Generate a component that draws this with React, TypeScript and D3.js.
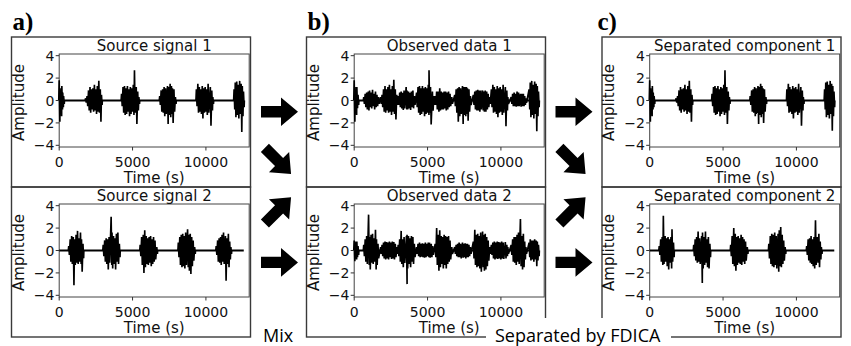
import React from 'react';
import * as d3 from 'd3';

// [time (s), min amplitude, max amplitude] envelope columns
type Col = [number, number, number];

const source1: Col[] = [
  [0, -1.9, 1.8], [60, -1.0, 1.1], [120, -1.4, 0.9], [180, -0.8, 1.3], [240, -0.6, 0.7], [300, -0.3, 0.4],
  [1800, -0.2, 0.2], [1900, -0.5, 0.4], [2000, -0.9, 0.9], [2100, -1.1, 1.2], [2200, -0.8, 1.0], [2300, -1.0, 1.1],
  [2400, -0.9, 1.4], [2500, -1.2, 1.0], [2600, -1.0, 1.3], [2700, -1.1, 1.75], [2800, -1.9, 1.0], [2880, -0.4, 0.5],
  [4250, -0.5, 0.6], [4350, -1.1, 1.2], [4450, -1.3, 1.3], [4550, -1.2, 1.1], [4650, -1.0, 1.3], [4750, -1.4, 1.0],
  [4850, -1.2, 1.2], [4950, -1.0, 1.1], [5050, -1.3, 1.4], [5130, -1.1, 2.7], [5250, -2.1, 1.2], [5350, -0.9, 0.8], [5430, -0.3, 0.3],
  [6850, -0.4, 0.4], [6950, -1.0, 0.9], [7050, -1.1, 1.0], [7150, -1.4, 1.2], [7250, -1.2, 1.1], [7380, -2.1, 1.3],
  [7450, -1.3, 1.2], [7560, -1.5, 1.5], [7650, -1.2, 1.3], [7720, -2.0, 1.1], [7820, -1.0, 1.0], [7920, -0.3, 0.3],
  [9350, -0.5, 1.0], [9450, -1.1, 1.5], [9550, -1.0, 1.2], [9650, -1.2, 1.0], [9750, -1.6, 1.3], [9850, -1.1, 1.1],
  [9950, -1.0, 1.2], [10050, -1.3, 1.0], [10150, -1.1, 1.5], [10300, -2.25, 1.2], [10400, -0.9, 0.9], [10470, -0.3, 0.3],
  [11920, -0.8, 1.0], [12000, -1.5, 1.6], [12100, -1.3, 1.7], [12200, -1.6, 1.4], [12300, -1.2, 1.75], [12400, -2.8, 1.5],
  [12480, -1.4, 1.3], [12560, -0.6, 0.8],
];

const source2: Col[] = [
  [650, -0.4, 0.4], [750, -1.0, 1.0], [850, -1.2, 1.3], [960, -3.1, 1.2], [1050, -1.3, 1.0], [1150, -1.1, 1.4],
  [1250, -1.2, 1.75], [1350, -1.0, 1.1], [1450, -1.2, 1.6], [1520, -1.9, 1.0], [1620, -0.7, 0.6],
  [3000, -0.5, 0.5], [3100, -1.0, 0.9], [3200, -1.2, 1.1], [3300, -1.7, 1.0], [3400, -1.1, 1.2], [3540, -1.3, 3.0],
  [3600, -1.6, 1.6], [3700, -1.2, 1.3], [3800, -1.7, 1.1], [3900, -1.0, 1.5], [4000, -1.2, 1.6], [4100, -0.6, 0.6],
  [5520, -0.5, 0.5], [5620, -1.3, 1.2], [5730, -2.0, 1.4], [5830, -1.5, 1.8], [5930, -1.2, 1.3], [6030, -1.3, 1.1],
  [6130, -1.1, 1.2], [6230, -1.4, 1.3], [6330, -1.2, 1.0], [6430, -1.0, 1.2], [6530, -0.8, 0.9], [6650, -0.3, 0.3],
  [8120, -0.6, 0.7], [8220, -1.3, 1.2], [8320, -1.5, 1.4], [8420, -1.4, 1.5], [8520, -1.6, 1.3], [8620, -1.3, 1.6],
  [8750, -1.5, 1.9], [8830, -1.8, 1.4], [8930, -2.1, 1.5], [9030, -1.4, 1.2], [9130, -0.9, 0.9], [9230, -0.3, 0.3],
  [10700, -0.4, 0.4], [10800, -1.0, 0.9], [10900, -1.1, 1.1], [11000, -1.3, 1.2], [11100, -1.0, 1.4], [11200, -1.2, 1.6],
  [11330, -2.7, 1.3], [11430, -1.2, 1.1], [11530, -1.5, 1.5], [11620, -0.8, 0.8], [11700, -0.3, 0.3],
];

const observed1: Col[] = [
  [0, -1.9, 1.8], [60, -1.0, 1.2], [120, -1.3, 0.9], [180, -0.7, 1.2], [260, -0.4, 0.5],
  [650, -0.3, 0.3], [750, -0.6, 0.6], [850, -0.8, 0.7], [960, -0.9, 0.8], [1050, -0.6, 0.9], [1150, -0.7, 0.7],
  [1250, -0.5, 0.95], [1350, -0.8, 0.6], [1450, -0.6, 0.8], [1550, -0.5, 0.5], [1650, -0.3, 0.3],
  [1800, -0.3, 0.3], [1900, -0.6, 0.5], [2000, -1.0, 1.0], [2100, -1.1, 1.3], [2200, -0.9, 1.0], [2300, -1.1, 1.2],
  [2400, -1.0, 1.4], [2500, -1.3, 1.0], [2600, -1.0, 1.3], [2700, -1.2, 1.85], [2800, -1.7, 1.0], [2900, -0.4, 0.5],
  [3000, -0.4, 0.4], [3100, -0.6, 0.7], [3200, -0.7, 0.8], [3300, -0.85, 0.7], [3400, -0.7, 0.9], [3540, -0.8, 1.2],
  [3600, -0.8, 0.9], [3700, -0.7, 0.8], [3800, -0.85, 0.7], [3900, -0.6, 0.8], [4000, -0.7, 0.9], [4100, -0.4, 0.4],
  [4250, -0.6, 0.7], [4350, -1.1, 1.2], [4450, -1.3, 1.3], [4550, -1.2, 1.1], [4650, -1.0, 1.3], [4750, -1.4, 1.1],
  [4850, -1.2, 1.2], [4950, -1.1, 1.1], [5050, -1.3, 1.4], [5100, -1.1, 2.7], [5200, -2.15, 1.2], [5330, -0.9, 0.8], [5430, -0.4, 0.4],
  [5520, -0.4, 0.4], [5620, -0.8, 0.8], [5730, -1.0, 0.8], [5830, -0.9, 1.1], [5930, -0.8, 0.8], [6030, -0.8, 0.7],
  [6130, -0.7, 0.8], [6230, -0.9, 0.8], [6330, -0.8, 0.7], [6430, -0.6, 0.8], [6530, -0.5, 0.6], [6650, -0.3, 0.3],
  [6850, -0.5, 0.5], [6950, -1.1, 1.0], [7050, -1.9, 1.1], [7150, -1.4, 1.2], [7250, -1.2, 1.1], [7380, -2.1, 1.3],
  [7450, -1.3, 1.2], [7560, -1.4, 1.2], [7650, -1.2, 1.2], [7720, -1.8, 1.1], [7820, -1.0, 1.0], [7920, -0.4, 0.4],
  [8120, -0.4, 0.5], [8220, -0.8, 0.8], [8320, -0.9, 0.9], [8420, -0.9, 0.95], [8520, -1.0, 0.9], [8620, -0.8, 0.9],
  [8750, -0.9, 0.9], [8830, -1.0, 0.8], [8930, -1.0, 0.9], [9030, -0.8, 0.8], [9130, -0.6, 0.6], [9230, -0.3, 0.3],
  [9350, -0.6, 1.0], [9450, -1.1, 1.4], [9550, -1.0, 1.2], [9650, -1.2, 1.0], [9750, -1.5, 1.3], [9850, -1.1, 1.1],
  [9950, -1.0, 1.2], [10050, -1.3, 1.0], [10150, -1.1, 1.4], [10300, -2.3, 1.2], [10400, -0.9, 0.9], [10470, -0.3, 0.3],
  [10700, -0.3, 0.3], [10800, -0.5, 0.6], [10900, -0.5, 0.7], [11000, -0.55, 0.6], [11100, -0.5, 0.8], [11200, -0.5, 0.7],
  [11330, -0.55, 0.6], [11430, -0.5, 0.6], [11530, -0.5, 0.6], [11620, -0.4, 0.4], [11700, -0.2, 0.2],
  [11920, -0.8, 1.0], [12000, -1.5, 1.6], [12100, -1.3, 1.75], [12200, -1.6, 1.4], [12300, -1.2, 1.7], [12400, -2.75, 1.5],
  [12480, -1.4, 1.3], [12560, -0.6, 0.8],
];

const observed2: Col[] = [
  [0, -0.95, 0.9], [60, -0.7, 0.8], [120, -0.8, 0.7], [180, -0.6, 0.8], [260, -0.4, 0.4],
  [650, -0.5, 0.5], [750, -1.0, 1.0], [850, -1.2, 1.3], [980, -1.3, 3.2], [1050, -1.7, 1.2], [1150, -1.1, 1.4],
  [1250, -1.2, 1.5], [1350, -1.0, 1.1], [1450, -1.7, 1.85], [1520, -1.3, 1.0], [1620, -0.7, 0.6],
  [1800, -0.3, 0.3], [1900, -0.5, 0.5], [2000, -0.7, 0.7], [2100, -0.8, 0.8], [2200, -0.7, 0.75], [2300, -0.8, 0.7],
  [2400, -0.6, 0.8], [2500, -0.75, 0.7], [2600, -0.7, 0.8], [2700, -0.8, 0.75], [2800, -0.6, 0.6], [2900, -0.3, 0.3],
  [3000, -0.5, 0.5], [3100, -1.0, 1.0], [3200, -1.2, 1.75], [3300, -1.5, 1.0], [3400, -1.1, 1.2], [3560, -3.0, 1.3],
  [3600, -1.6, 1.4], [3700, -1.2, 1.3], [3800, -1.5, 1.1], [3900, -1.0, 1.3], [4000, -1.2, 1.2], [4100, -0.6, 0.6],
  [4250, -0.3, 0.3], [4350, -0.5, 0.6], [4450, -0.6, 0.7], [4550, -0.55, 0.6], [4650, -0.6, 0.65], [4750, -0.65, 0.6],
  [4850, -0.6, 0.7], [4950, -0.5, 0.6], [5050, -0.6, 0.7], [5130, -0.65, 0.7], [5250, -0.6, 0.6], [5350, -0.4, 0.4],
  [5520, -0.6, 0.6], [5620, -1.3, 2.0], [5730, -1.8, 1.4], [5830, -1.5, 1.8], [5930, -1.2, 1.3], [6030, -1.6, 1.2],
  [6130, -1.3, 1.4], [6230, -1.6, 1.3], [6330, -1.2, 1.2], [6430, -1.0, 1.3], [6530, -0.8, 0.9], [6650, -0.3, 0.3],
  [6850, -0.3, 0.3], [6950, -0.5, 0.5], [7050, -0.6, 0.6], [7150, -0.6, 0.7], [7250, -0.7, 0.6], [7380, -0.65, 0.7],
  [7450, -0.6, 0.6], [7560, -0.7, 0.65], [7650, -0.6, 0.6], [7720, -0.6, 0.6], [7820, -0.5, 0.5], [7920, -0.3, 0.3],
  [8120, -0.7, 0.8], [8220, -1.3, 1.85], [8320, -1.5, 1.4], [8420, -1.4, 1.5], [8520, -1.6, 1.3], [8620, -1.9, 1.6],
  [8750, -1.5, 1.7], [8830, -1.8, 1.4], [8930, -1.7, 1.5], [9030, -1.4, 1.2], [9130, -0.9, 0.9], [9230, -0.3, 0.3],
  [9350, -0.4, 0.5], [9450, -0.7, 0.7], [9550, -0.8, 0.8], [9650, -0.7, 0.7], [9750, -0.75, 0.8], [9850, -0.7, 0.75],
  [9950, -0.8, 0.7], [10050, -0.7, 0.8], [10150, -0.75, 0.7], [10300, -0.7, 0.75], [10400, -0.5, 0.5], [10470, -0.3, 0.3],
  [10700, -0.4, 0.5], [10800, -1.0, 1.0], [10900, -1.1, 1.2], [11000, -1.3, 1.2], [11100, -1.0, 1.4], [11200, -1.2, 1.6],
  [11330, -1.4, 2.8], [11430, -1.7, 1.3], [11530, -1.5, 1.5], [11620, -0.8, 0.8], [11700, -0.3, 0.3],
  [11920, -0.6, 0.7], [12000, -0.9, 1.0], [12100, -0.8, 0.9], [12200, -1.0, 0.9], [12300, -0.8, 1.0], [12400, -1.4, 0.9],
  [12480, -0.9, 0.8], [12560, -0.5, 0.5],
];

const separated1: Col[] = [
  [0, -1.9, 1.8], [60, -1.0, 1.1], [120, -1.4, 0.9], [180, -0.8, 1.3], [240, -0.6, 0.7], [300, -0.3, 0.4],
  [1800, -0.2, 0.2], [1900, -0.5, 0.4], [2000, -0.9, 0.9], [2100, -1.1, 1.2], [2200, -0.8, 1.0], [2300, -1.0, 1.1],
  [2400, -0.9, 1.4], [2500, -1.2, 1.0], [2600, -1.0, 1.3], [2700, -1.1, 1.75], [2800, -1.9, 1.0], [2880, -0.4, 0.5],
  [4250, -0.5, 0.6], [4350, -1.1, 1.2], [4450, -1.3, 1.3], [4550, -1.2, 1.1], [4650, -1.0, 1.3], [4750, -1.4, 1.0],
  [4850, -1.2, 1.2], [4950, -1.0, 1.1], [5050, -1.3, 1.4], [5130, -1.1, 2.7], [5250, -2.1, 1.2], [5350, -0.9, 0.8], [5430, -0.3, 0.3],
  [6850, -0.4, 0.4], [6950, -1.0, 0.9], [7050, -1.1, 1.0], [7150, -1.4, 1.2], [7250, -1.2, 1.1], [7380, -2.1, 1.3],
  [7450, -1.3, 1.2], [7560, -1.5, 1.5], [7650, -1.2, 1.3], [7720, -2.0, 1.1], [7820, -1.0, 1.0], [7920, -0.3, 0.3],
  [9350, -0.5, 1.0], [9450, -1.1, 1.5], [9550, -1.0, 1.2], [9650, -1.2, 1.0], [9750, -1.6, 1.3], [9850, -1.1, 1.1],
  [9950, -1.0, 1.2], [10050, -1.3, 1.0], [10150, -1.1, 1.5], [10300, -2.25, 1.2], [10400, -0.9, 0.9], [10470, -0.3, 0.3],
  [11920, -0.8, 1.0], [12000, -1.5, 1.6], [12100, -1.3, 1.7], [12200, -1.6, 1.4], [12300, -1.2, 1.75], [12400, -2.7, 1.5],
  [12480, -1.4, 1.3], [12560, -0.6, 0.8],
];

const separated2: Col[] = [
  [650, -0.4, 0.4], [750, -1.0, 1.0], [850, -1.3, 1.2], [930, -1.2, 3.1], [1050, -1.0, 1.3], [1150, -1.4, 1.1],
  [1250, -1.7, 1.2], [1350, -1.1, 1.0], [1450, -1.6, 1.2], [1520, -1.0, 1.9], [1620, -0.6, 0.7],
  [3000, -0.5, 0.5], [3100, -0.9, 1.0], [3200, -1.1, 1.2], [3300, -1.0, 1.7], [3400, -1.2, 1.1], [3540, -2.9, 1.3],
  [3600, -1.6, 1.6], [3700, -1.3, 1.2], [3800, -1.1, 1.7], [3900, -1.5, 1.0], [4000, -1.6, 1.2], [4100, -0.6, 0.6],
  [5520, -0.5, 0.5], [5620, -1.2, 1.3], [5730, -1.4, 2.0], [5830, -1.8, 1.5], [5930, -1.3, 1.2], [6030, -1.1, 1.3],
  [6130, -1.2, 1.1], [6230, -1.3, 1.4], [6330, -1.0, 1.2], [6430, -1.2, 1.0], [6530, -0.9, 0.8], [6650, -0.3, 0.3],
  [8120, -0.7, 0.6], [8220, -1.2, 1.3], [8320, -1.4, 1.5], [8420, -1.5, 1.4], [8520, -1.3, 1.6], [8620, -1.6, 1.3],
  [8750, -1.9, 1.5], [8830, -1.4, 1.8], [8930, -1.5, 2.1], [9030, -1.2, 1.4], [9130, -0.9, 0.9], [9230, -0.3, 0.3],
  [10700, -0.4, 0.4], [10800, -0.9, 1.0], [10900, -1.1, 1.1], [11000, -1.2, 1.3], [11100, -1.4, 1.0], [11200, -1.6, 1.2],
  [11300, -1.3, 2.7], [11430, -1.1, 1.2], [11530, -1.5, 1.5], [11620, -0.8, 0.8], [11700, -0.3, 0.3],
];

const panelSignals: Col[][][] = [
  [source1, source2],
  [observed1, observed2],
  [separated1, separated2],
];
const panelTitles: string[][] = [
  ['Source signal 1', 'Source signal 2'],
  ['Observed data 1', 'Observed data 2'],
  ['Separated component 1', 'Separated component 2'],
];
const panelLetters = ['a)', 'b)', 'c)'];
const yTicks = [-4, -2, 0, 2, 4];
const xTicks = [0, 5000, 10000];
const xDomain: [number, number] = [0, 12950];
const yDomain: [number, number] = [-4.15, 4.15];
const signalSpan: [number, number] = [0, 12580];
const xLabel = 'Time (s)';
const yLabel = 'Amplitude';
const mixLabel = 'Mix';
const sepLabel = 'Separated by FDICA';

// layout
const W = 851;
const H = 346;
const colLefts = [11.5, 306.5, 602];
const rowTops = [37, 187];
const boxW = 239;
const boxH = 150;
const plotDX = 47.7;
const plotDY = 17;
const plotW = 190;
const plotH = 93;
const arrowCols = [261, 555.5];
const MPL = "'DejaVu Sans', sans-serif";

const fmt = d3.format('d');

function groups(cols: Col[]): Col[][] {
  const out: Col[][] = [];
  let cur: Col[] = [];
  cols.forEach((c, i) => {
    if (i > 0 && c[0] - cols[i - 1][0] > 250) {
      out.push(cur);
      cur = [];
    }
    cur.push(c);
  });
  if (cur.length) out.push(cur);
  return out;
}

function Panel({ left, top, title, data }: { left: number; top: number; title: string; data: Col[] }) {
  const px = left + plotDX;
  const py = top + plotDY;
  const x = d3.scaleLinear().domain(xDomain).range([px, px + plotW]);
  const y = d3.scaleLinear().domain(yDomain).range([py + plotH, py]);
  const line = d3
    .line<[number, number]>()
    .x((p) => x(p[0]))
    .y((p) => y(p[1]));
  const paths = groups(data).map((g) => {
    const pts: [number, number][] = [[g[0][0] - 30, 0]];
    g.forEach((c) => {
      pts.push([c[0], c[2]]);
      pts.push([c[0] + 45, c[1]]);
    });
    pts.push([g[g.length - 1][0] + 60, 0]);
    return line(pts) as string;
  });
  const cx = px + plotW / 2;
  const cy = py + plotH / 2;
  return (
    <g>
      <rect x={left} y={top} width={boxW} height={boxH} fill="none" stroke="#3a3a3a" strokeWidth={1.4} />
      <rect x={px} y={py} width={plotW} height={plotH} fill="#fff" stroke="#444" strokeWidth={1} />
      <line x1={x(signalSpan[0])} x2={x(signalSpan[1])} y1={y(0)} y2={y(0)} stroke="#000" strokeWidth={2} />
      {paths.map((d, i) => (
        <path key={i} d={d} fill="none" stroke="#000" strokeWidth={1.65} strokeLinejoin="miter" />
      ))}
      {yTicks.map((t) => (
        <g key={'y' + t}>
          <line x1={px - 3.5} x2={px} y1={y(t)} y2={y(t)} stroke="#333" strokeWidth={1} />
          <text x={px - 4.8} y={y(t)} dy="0.36em" textAnchor="end" fontSize={14} fontFamily={MPL} fill="#111">
            {fmt(t)}
          </text>
        </g>
      ))}
      {xTicks.map((t) => (
        <g key={'x' + t}>
          <line x1={x(t)} x2={x(t)} y1={py + plotH} y2={py + plotH + 3.5} stroke="#333" strokeWidth={1} />
          <text x={x(t)} y={py + plotH + 19.7} textAnchor="middle" fontSize={14} fontFamily={MPL} fill="#111">
            {fmt(t)}
          </text>
        </g>
      ))}
      <text x={cx} y={top + 13.5} textAnchor="middle" fontSize={15} fontFamily={MPL} fill="#111">
        {title}
      </text>
      <text x={cx} y={top + 145.5} textAnchor="middle" fontSize={15} fontFamily={MPL} fill="#111">
        {xLabel}
      </text>
      <text
        transform={`translate(${px - 35.5},${cy + 2}) rotate(-90)`}
        textAnchor="middle"
        fontSize={15}
        fontFamily={MPL}
        fill="#111"
      >
        {yLabel}
      </text>
    </g>
  );
}

const arrowShape: [number, number][] = [
  [0, -5.7], [20, -5.7], [20, -14.3], [37, 0], [20, 14.3], [20, 5.7], [0, 5.7],
];

function Arrow({ transform }: { transform: string }) {
  const d = d3.line()(arrowShape) + 'Z';
  return <path d={d} transform={transform} fill="#000" />;
}

export default function App() {
  return (
    <svg
      width={W}
      height={H}
      viewBox={`0 0 ${W} ${H}`}
      style={{ position: 'absolute', left: 0, top: 0, background: '#fff' }}
    >
      <rect x={0} y={0} width={W} height={H} fill="#fff" />
      {panelSignals.map((col, ci) =>
        col.map((data, ri) => (
          <Panel key={ci + '-' + ri} left={colLefts[ci]} top={rowTops[ri]} title={panelTitles[ci][ri]} data={data} />
        ))
      )}
      {panelLetters.map((l, i) => (
        <text
          key={l}
          x={colLefts[i] + (i === 2 ? -4.5 : 1)}
          y={29.5}
          fontSize={25}
          fontWeight="bold"
          fontFamily="'Liberation Serif', serif"
          fill="#000"
        >
          {l}
        </text>
      ))}
      {arrowCols.map((ax, i) => (
        <g key={'arr' + i}>
          <Arrow transform={`translate(${ax},111.7)`} />
          <Arrow transform={`translate(${ax + 15},159) rotate(45) translate(-15.7,0)`} />
          <Arrow transform={`translate(${ax + 15},212.4) rotate(-45) translate(-15.7,0)`} />
          <Arrow transform={`translate(${ax},262.4)`} />
        </g>
      ))}
      <text x={263} y={341.5} fontSize={18} fontFamily="'Open Sans', sans-serif" fill="#000">
        {mixLabel}
      </text>
      <rect x={486} y={318} width={185} height={28} fill="#fff" />
      <text x={495} y={341.5} fontSize={18} fontFamily="'Open Sans', sans-serif" fill="#000">
        {sepLabel}
      </text>
    </svg>
  );
}
